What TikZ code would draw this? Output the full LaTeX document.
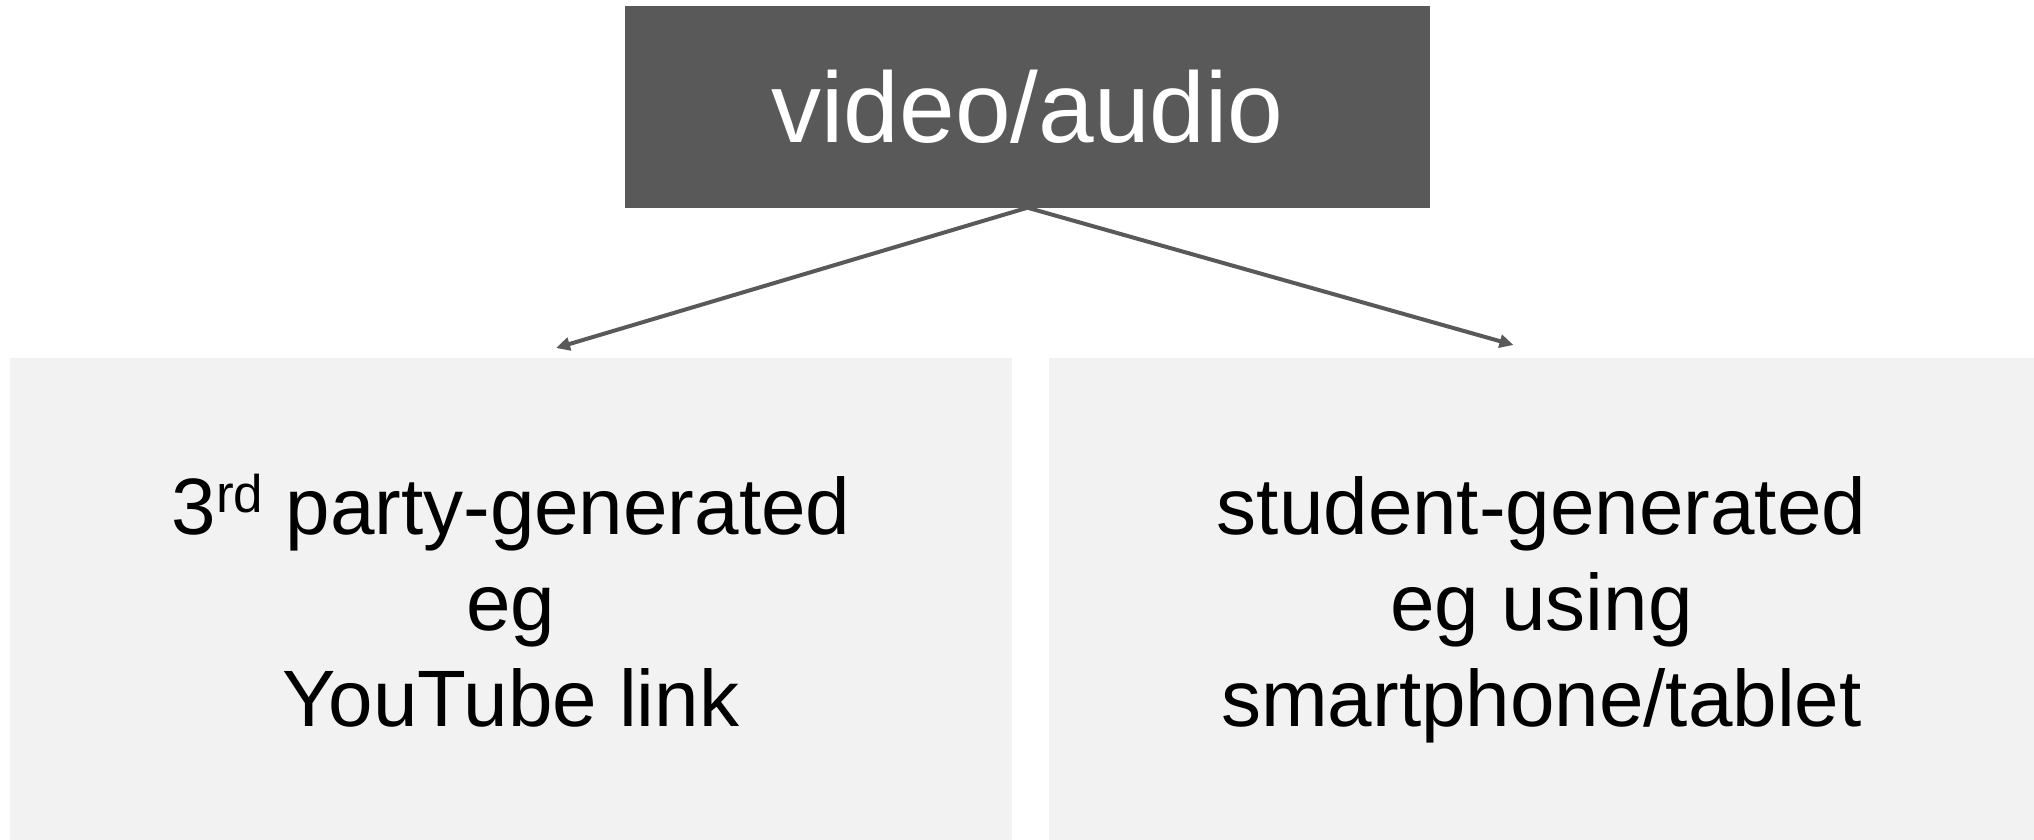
\documentclass[tikz,border=0pt]{standalone}
\usepackage{fontspec}
\setmainfont{Liberation Sans}
\usetikzlibrary{arrows.meta}
\definecolor{darkbox}{HTML}{595959}
\definecolor{lightbox}{HTML}{F2F2F2}
\newcommand{\ordsup}[1]{\smash{\raisebox{22pt}{\fontsize{53}{53}\selectfont #1}}}
\begin{document}
\begin{tikzpicture}[x=1pt, y=-1pt,
    kind/.style={fill=lightbox, minimum width=1002pt, minimum height=504pt,
        anchor=north, inner sep=0pt, align=center,
        font=\fontsize{80}{96}\selectfont},
    link/.style={draw=darkbox, line width=4pt,
        -{Triangle[length=14pt, width=13pt]}}]
    \useasboundingbox (0, 0) rectangle (2034, 840);
    \node[fill=darkbox, text=white, minimum width=805pt, minimum height=201pt,
        inner sep=0pt, font=\fontsize{100}{120}\selectfont]
        (media) at (1027.5, 107) {video/audio};
    \node[kind] (third) at (511, 358)
        {3\ordsup{rd} party-generated\\eg\\YouTube link\vphantom{p}};
    \node[kind, minimum width=985pt] (student) at (1541.5, 358)
        {student-generated\\eg using\\smartphone/tablet};
    \draw[link] (media.south) -- ([shift={(45, -10)}]third.north);
    \draw[link] (media.south) -- ([shift={(-28, -13)}]student.north);
\end{tikzpicture}
\end{document}
